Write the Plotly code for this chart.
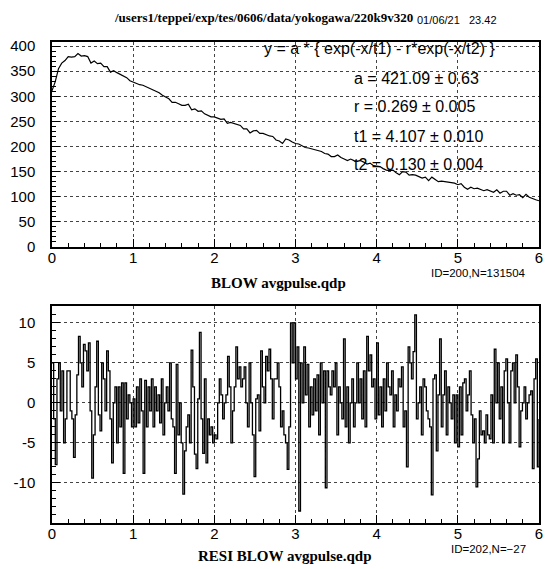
import numpy as np
import plotly.graph_objects as go

# ---------------- data ----------------
pulse_values = [
    311, 329, 355, 366, 371, 379, 378, 379, 385, 380,
    381, 379, 366, 370, 365, 366, 359, 359, 348, 351,
    347, 344, 341, 337, 331, 328, 325, 323, 322, 319,
    316, 313, 309, 307, 302, 299, 295, 288, 288, 285,
    282, 282, 284, 273, 275, 270, 271, 265, 262, 259,
    259, 257, 254, 255, 246, 248, 246, 243, 242, 235,
    235, 227, 231, 232, 226, 226, 223, 221, 220, 213,
    211, 206, 215, 213, 209, 206, 205, 202, 198, 197,
    195, 194, 192, 190, 186, 185, 180, 180, 183, 178,
    175, 172, 175, 172, 171, 172, 169, 165, 167, 162,
    161, 160, 156, 153, 152, 153, 148, 144, 150, 149,
    143, 144, 143, 140, 137, 139, 132, 139, 134, 130,
    131, 130, 129, 128, 127, 124, 126, 119, 115, 119,
    116, 117, 114, 112, 114, 112, 109, 114, 107, 111,
    111, 103, 106, 103, 104, 98, 105, 99, 96, 94, 92,
]

resid_values = [
    5, -2, -7.7, 3, 5, -1, 4, -5, -2, 4,
    4, -1, -2, -6.8, -1.5, 3.5, 8.3, 5, 2, 7.3,
    6.5, 4, 7.5, -1, -9.4, -4, 2, 7.7, -1.5, -3.5,
    5, 3, -1, 6.5, 4, -2, -7.5, 0, 2, -5,
    2, -3, 2.5, -8.8, 2.5, -2, 1, 0, -3, 0.5,
    -3, 2, -2.5, 3, -1, -8.8, 2.8, -3, 2, -1,
    3, -3, 2, -1, 1, -2.5, 3, -4, 0, 2,
    -1, 5, -2, -3, -8.8, 4.8, -4, 0, -5, -11.4,
    -6, -3, -1.5, -5, 6.6, 2, -6.4, -8.2, 0.5, 8.8,
    -2, -6.3, 3, -7.5, -2, -4, -3, -5, -4, -4.5,
    0, 3, 1, -2, 0, 1, 5.8, 2, -5, -1,
    2, 7, 3, 4.5, 2, 3, 4.5, 0, -3, 5,
    0, -4, -9.2, 0.5, 1, -3.5, 6.5, 2, 0, 5.8,
    4, 6.7, 3, -2, 3, 3, 5, 2, -3, -1,
    -4, -5, -8.3, -3, 10, 5, 10, 3, 7, -13.5,
    5, 0, 7, 1, 4.8, -3, 2, -1.5, 3, -1,
    3.5, -4, 5, 0, 4, -10.6, 4, 2, 1, 4,
    2, 5, -4, 2, 0, -2, 8, -3, 2, -5,
    0, 3, -3, 0, 5, 0, 3, -2, 4, -3,
    8.3, 4, 6, 2, 3, -2, 7.5, -1.5, 2, -3,
    3, -1, 5, 2, 1, 4, -3, 1, -1, 3,
    2, 4.5, -3, -1, -8, 7, 5, 3, 6.4, 11,
    -2, 0, 2, -4, 3, 2, -1, -2, -3, -11.5,
    3, 3.5, -6, 1, 8, -3, 1, 4, -4, 2,
    0, -2, 1, -5, 1, -5.5, 2, -4, 2.5, 3,
    -1, 1, 4, -1.5, -5, -2, -10.5, -7, -1, -4,
    -3.5, -5, -1.5, -4, -4.5, 1, -5, 6.7, 0, 5,
    -2, 2, -5, 4, 5.5, 0, -5, 4, 5, 0,
    6, 2, -5.5, -1, 0, 2, -2, 0, 1, 1.5,
    -8.2, 3, 5.5, -8, -2,
]

x_min, x_max = 0.0, 6.0
top_yticks = [0, 50, 100, 150, 200, 250, 300, 350, 400]
bot_yticks = [-10, -5, 0, 5, 10]
bot_yticktext = ["-10", "-5", "0", "5", "10"]
x_ticks = [0, 1, 2, 3, 4, 5, 6]

fit_lines = [
    "y = a * { exp(-x/t1) - r*exp(-x/t2) }",
    "a = 421.09 \u00b1 0.63",
    "r = 0.269 \u00b1 0.005",
    "t1 = 4.107 \u00b1 0.010",
    "t2 = 0.130 \u00b1 0.004",
]

# ---------------- figure ----------------
W, H = 548, 569
ML, MR, MT, MB = 52, 5, 42, 46
PW, PH = W - ML - MR, H - MT - MB


def px(xp):
    return (xp - ML) / PW


def py(yp):
    return (H - MB - yp) / PH


px_top = np.linspace(x_min, x_max, len(pulse_values))
px_bot = np.linspace(x_min, x_max, len(resid_values))

fig = go.Figure()
fig.add_trace(go.Scatter(x=px_top, y=pulse_values, mode="lines",
                         line=dict(color="black", width=1.2),
                         xaxis="x", yaxis="y", showlegend=False))
fig.add_trace(go.Scatter(x=px_bot, y=resid_values, mode="lines",
                         line=dict(color="black", width=1.3, shape="hv"),
                         xaxis="x2", yaxis="y2", showlegend=False))

tickfont = dict(family="Liberation Sans", size=15, color="black")
axis_common = dict(
    showline=True, linecolor="black", linewidth=1.5, mirror=True,
    ticks="inside", ticklen=8, tickcolor="black", tickwidth=1,
    showgrid=True, gridcolor="#444444", gridwidth=1, griddash="dot",
    zeroline=False, tickfont=tickfont, layer="below traces",
)

fig.update_layout(
    width=W, height=H,
    margin=dict(l=ML, r=MR, t=MT, b=MB),
    paper_bgcolor="white", plot_bgcolor="white",
    xaxis=dict(range=[x_min, x_max], domain=[0, 1], anchor="y",
               tickvals=x_ticks, ticklabelstandoff=-4,
               minor=dict(ticks="inside", ticklen=4, dtick=0.2,
                          tickcolor="black", showgrid=False),
               **axis_common),
    yaxis=dict(range=[0, 408], domain=[py(247), 1], anchor="x",
               tickvals=top_yticks, ticklabelstandoff=12,
               minor=dict(ticks="inside", ticklen=4, dtick=10,
                          tickcolor="black", showgrid=False),
               **axis_common),
    xaxis2=dict(range=[x_min, x_max], domain=[0, 1], anchor="y2",
                tickvals=x_ticks, ticklabelstandoff=-4,
                minor=dict(ticks="inside", ticklen=4, dtick=0.2,
                           tickcolor="black", showgrid=False),
                **axis_common),
    yaxis2=dict(range=[-15, 12.1], domain=[0, py(306)], anchor="x2",
                tickvals=bot_yticks, ticktext=bot_yticktext,
                ticklabelstandoff=12,
                minor=dict(ticks="inside", ticklen=4, dtick=1,
                           tickcolor="black", showgrid=False),
                **axis_common),
)

sans_s = dict(family="Liberation Sans", size=11.5, color="black")
sans_d = dict(family="Liberation Sans", size=11, color="black")
fit_font = dict(family="Liberation Sans", size=16, color="black")

ann = []


def add(text, xp, yp, font, xanchor="center", yanchor="middle"):
    ann.append(dict(text=text, x=px(xp), y=py(yp), xref="paper", yref="paper",
                    showarrow=False, font=font, xanchor=xanchor,
                    yanchor=yanchor))


add("<b>/users1/teppei/exp/tes/0606/data/yokogawa/220k9v320</b>", 265, 17,
    dict(family="Liberation Serif", size=13, color="black"))
add("01/06/21&nbsp;&nbsp;&nbsp;23.42", 418, 20, sans_d, xanchor="left")
add("<b>BLOW avgpulse.qdp</b>", 280, 283,
    dict(family="Liberation Serif", size=15, color="black"))
add("ID=200,N=131504", 532, 273, sans_s, xanchor="right")
add("<b>RESI BLOW avgpulse.qdp</b>", 287, 556,
    dict(family="Liberation Serif", size=15, color="black"))
add("ID=202,N=\u221227", 532, 549, sans_s, xanchor="right")

add(fit_lines[0], 382, 49, fit_font)
for i, yp in zip(range(1, 5), [79, 107, 136, 164]):
    add(fit_lines[i], 354, yp, fit_font, xanchor="left")

fig.update_layout(annotations=ann)
fig.write_html("out.html")
